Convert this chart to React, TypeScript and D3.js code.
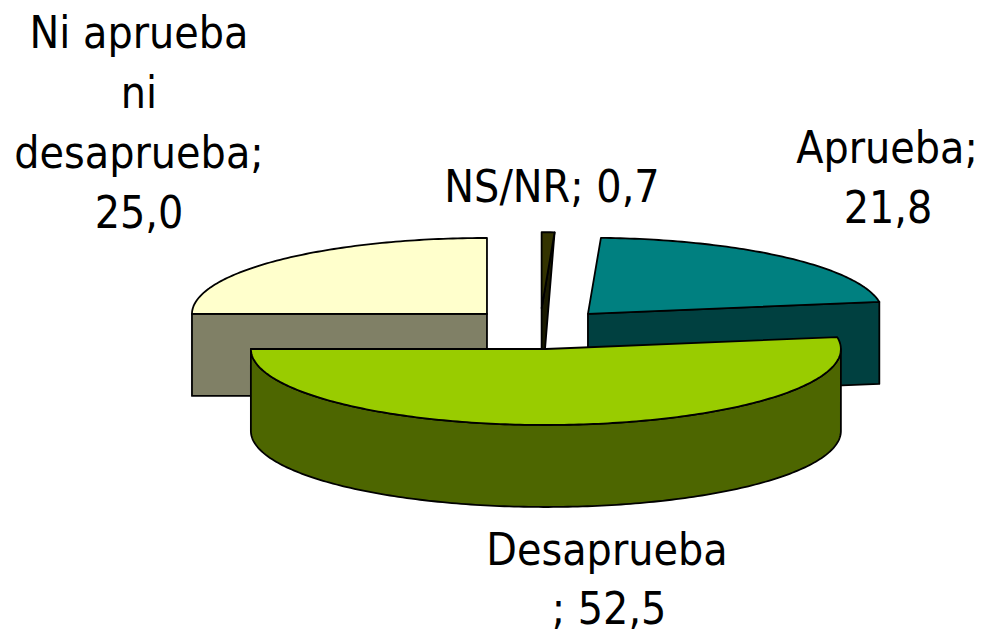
import React from "react";
import * as d3 from "d3";

const categories = ["Aprueba", "Desaprueba", "Ni aprueba ni desaprueba", "NS/NR"];
const shares = [21.8, 52.5, 25.0, 0.7];
const topColors = ["#008080", "#99CC00", "#FFFFCC", "#333300"];
const wallColors = ["#004040", "#4D6600", "#808066", "#1A1A00"];
const labelLines = [
  ["Ni aprueba", 139, 48],
  ["ni", 139, 108],
  ["desaprueba;", 139, 168],
  ["25,0", 139, 228],
  ["NS/NR; 0,7", 552, 202],
  ["Aprueba;", 887, 163],
  ["21,8", 888, 223],
  ["Desaprueba", 607, 565],
  ["; 52,5", 609, 624],
] as const;

const W = 983, H = 631;
const cx = 540, cy = 328.5, rx = 295, ry = 76, depth = 82, explodeY = 0.274;
const explodes = [72, 75, 75, 74];
const startAngle = (2.52 * Math.PI) / 180;
const textSqueeze = 0.885;

const pie = d3.pie<number>().sort(null).startAngle(startAngle).endAngle(startAngle + 2 * Math.PI);
const arcs = pie(shares);
const line = d3.line<[number, number]>();

function geom(i: number) {
  const a = arcs[i];
  const mid = (a.startAngle + a.endAngle) / 2;
  const ox = cx + explodes[i] * Math.sin(mid);
  const oy = cy - explodes[i] * explodeY * Math.cos(mid);
  const rim = (t: number, dy = 0): [number, number] => [ox + rx * Math.sin(t), oy - ry * Math.cos(t) + dy];
  const rimPts = (t0: number, t1: number, dy = 0) => {
    const n = Math.max(2, Math.ceil(Math.abs(t1 - t0) * 60));
    return d3.range(n + 1).map((k) => rim(t0 + ((t1 - t0) * k) / n, dy));
  };
  return { ox, oy, rim, rimPts, a0: a.startAngle, a1: a.endAngle };
}
const stroke = { stroke: "#000", strokeWidth: 1.8, strokeLinejoin: "round" as const };

function Slice({ i }: { i: number }) {
  const { ox, oy, rim, rimPts, a0, a1 } = geom(i);
  const apex: [number, number] = [ox, oy];
  const apexLow: [number, number] = [ox, oy + depth];
  const walls: [number, number][][] = [];
  if (i === 3) {
    walls.push([rim(a1), apex, apexLow]);
  } else if (i === 0) {
    walls.push([apex, rim(a1), rim(a1, depth), apexLow]);
  } else if (i === 2) {
    walls.push([apex, rim(a0), rim(a0, depth), apexLow]);
  } else {
    const front = rimPts(Math.PI / 2, a1);
    walls.push([...front, ...rimPts(a1, Math.PI / 2, depth)]);
  }
  const top: [number, number][] = [apex, ...rimPts(a0, a1)];
  return (
    <g>
      {walls.map((w, k) => (
        <path key={k} d={line(w) + "Z"} fill={wallColors[i]} {...stroke} />
      ))}
      <path d={line(top) + "Z"} fill={topColors[i]} {...stroke} />
    </g>
  );
}

export default function App() {
  return (
    <svg
      width={W}
      height={H}
      viewBox={`0 0 ${W} ${H}`}
      style={{ position: "absolute", left: 0, top: 0, display: "block", background: "#fff" }}
      aria-label={categories.join(", ")}
    >
      {[3, 2, 0, 1].map((i) => (
        <Slice key={i} i={i} />
      ))}
      {labelLines.map(([t, x, y]) => (
        <text
          key={t}
          transform={`translate(${x},${y}) scale(${textSqueeze},1)`}
          textAnchor="middle"
          fontFamily="'DejaVu Sans', sans-serif"
          fontSize={45}
          fill="#000"
        >
          {t}
        </text>
      ))}
    </svg>
  );
}
